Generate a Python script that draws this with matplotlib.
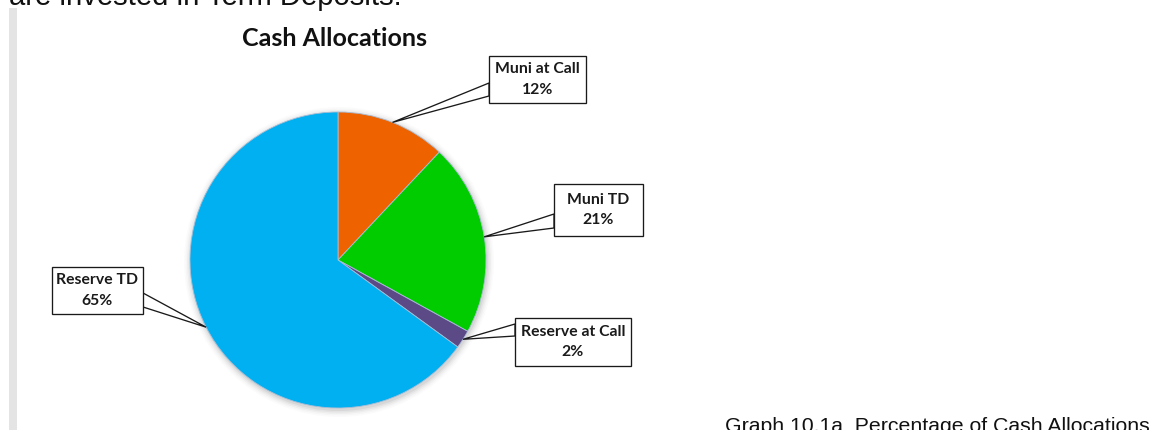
import matplotlib
matplotlib.use("Agg")
import matplotlib.pyplot as plt
from matplotlib.patches import Rectangle, Polygon, Circle
import numpy as np

# ---- data ----
categories = ["Muni at Call", "Muni TD", "Reserve at Call", "Reserve TD"]
values = [12, 21, 2, 65]
colors = ["#EE6300", "#00CC00", "#5C4A86", "#00B0F0"]
title = "Cash Allocations"
top_text = "are invested in Term Deposits."
caption = "Graph 10.1a  Percentage of Cash Allocations"

# ---- layout (pixel coords, y measured from top) ----
W, H = 1153, 430
center_down = (338, 260)
radius = 148
# label boxes: x0, y0, x1, y1, side of pointer, base y's of pointer
boxes = [
    (489, 56, 586, 103, "left", (83, 96)),
    (554, 184, 643, 236, "left", (214, 228)),
    (515, 318, 631, 366, "left", (324, 336)),
    (52, 267, 143, 314, "right", (293, 307)),
]

fig = plt.figure(figsize=(W / 100, H / 100), dpi=100)
ax = fig.add_axes([0, 0, 1, 1])
ax.set_xlim(0, W)
ax.set_ylim(0, H)
ax.set_aspect("equal")
ax.axis("off")


def Y(yd):
    return H - yd


cx, cy = center_down[0], Y(center_down[1])

# soft shadow
for i, a in enumerate([0.05, 0.04, 0.03, 0.02, 0.015]):
    ax.add_patch(Circle((cx + 1, cy - 2), radius + 1 + i * 1.5, color="#000000",
                        alpha=a, lw=0, zorder=1))

wedges, _ = ax.pie(values, colors=colors, startangle=90, counterclock=False,
                   center=(cx, cy), radius=radius, frame=True,
                   wedgeprops=dict(edgecolor="#A9BCD6", linewidth=0.6))
for w in wedges:
    w.set_zorder(2)
ax.set_xlim(0, W)
ax.set_ylim(0, H)
ax.axis("off")

# callouts
total = sum(values)
cum = np.cumsum([0] + values)
for i, (name, v) in enumerate(zip(categories, values)):
    mid = (cum[i] + v / 2) / total  # fraction clockwise from top
    ang = np.pi / 2 - 2 * np.pi * mid
    tip = (cx + radius * np.cos(ang), cy + radius * np.sin(ang))
    x0, y0, x1, y1, side, (b1, b2) = boxes[i]
    bx = x0 if side == "left" else x1
    ax.add_patch(Polygon([(bx, Y(b1)), tip, (bx, Y(b2))], closed=True,
                         facecolor="white", edgecolor="#1a1a1a", lw=0.95, zorder=5))
    ax.add_patch(Rectangle((x0, Y(y1)), x1 - x0, y1 - y0, facecolor="white",
                           edgecolor="#1a1a1a", lw=0.95, zorder=6))
    xc = (x0 + x1) / 2
    yc = (y0 + y1) / 2
    ax.text(xc, Y(yc - 10.5), name, ha="center", va="center", fontsize=11.3,
            fontweight="bold", family="Lato", color="#1a1a1a", zorder=7)
    ax.text(xc, Y(yc + 10.5), f"{v}%", ha="center", va="center", fontsize=11.3,
            fontweight="bold", family="Lato", color="#1a1a1a", zorder=7)

# title
ax.text(335, Y(38), title, ha="center", va="center", fontsize=18,
        fontweight="bold", family="Lato", color="#111111")

# gray margin bar
ax.add_patch(Rectangle((9, 0), 8, Y(8), facecolor="#E4E4E4", lw=0, zorder=0))

# clipped text from the page
ax.text(9, Y(5), top_text, ha="left", va="baseline", fontsize=21.1,
        family="Liberation Sans", color="#111111", clip_on=False)
ax.text(725, Y(432), caption, ha="left", va="baseline", fontsize=15.3,
        family="Liberation Sans", color="#111111", clip_on=False)

fig.savefig("out.png", dpi=100)
